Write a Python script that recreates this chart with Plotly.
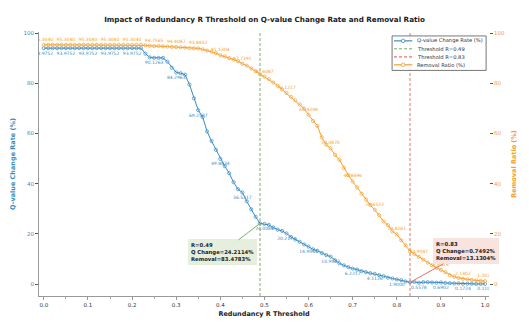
import plotly.graph_objects as go

# ---------------- data ----------------
r_thresholds = [i / 100 for i in range(101)]

q_change = [93.9752] * 23 + [
    91.8, 90.3, 90.1263, 90.1, 90.1, 88.6, 86.2, 84.2963, 84.0, 83.4,
    79.5, 74.0, 69.2597, 66.5, 60.8, 57.0, 53.5, 49.8834, 47.0, 44.2,
    40.6, 37.8, 36.5217, 33.0, 29.8, 26.8, 24.2114, 24.0084, 23.6, 22.6,
    21.7, 21.2, 20.2174, 18.8, 17.8, 16.9, 15.8, 14.9565, 13.9, 13.3,
    12.4, 11.6, 10.9507, 9.5, 8.3, 7.5, 6.8, 6.2217, 5.8, 5.2,
    4.8, 4.4, 4.1126, 3.6, 3.2, 2.6, 2.3, 1.9000, 1.6, 1.1,
    0.7492, 0.9, 0.5578, 0.8, 0.8, 0.7, 0.6, 0.6902, 0.5, 0.4,
    0.3, 0.3, 0.1724, 0.2, 0.2, 0.1, 0.1, 0.1107,
]

removal = [95.3040] * 23 + [
    95.1, 94.9, 94.7565, 94.8, 94.7, 94.6, 94.5, 94.4087, 94.3, 94.2,
    94.0, 93.9, 93.8832, 93.5, 93.0, 92.5, 92.0, 91.1304, 90.7, 90.0,
    89.4, 88.8, 87.7391, 87.0, 85.9, 84.8, 83.4783, 82.6087, 81.6, 80.3,
    79.0, 77.5, 76.1217, 74.6, 73.2, 71.6, 69.9, 67.4348, 65.0, 63.0,
    58.5, 55.5, 54.0870, 51.5, 49.5, 46.3, 43.5, 40.8696, 38.5, 36.0,
    33.7, 31.5, 29.6522, 27.5, 25.0, 23.5, 21.0, 19.8261, 17.5, 15.5,
    13.1304, 12.0, 10.9087, 9.8, 8.6, 7.5, 6.5, 5.6818, 4.8, 3.6,
    3.0, 2.5, 2.1402, 1.9, 1.7, 1.5, 1.3, 1.2027,
]

thresholds = [0.49, 0.83]
x_ticks = [0.0, 0.1, 0.2, 0.3, 0.4, 0.5, 0.6, 0.7, 0.8, 0.9, 1.0]
y_ticks = [0, 20, 40, 60, 80, 100]

# ---------------- style ----------------
BLUE = "#3B8BC2"
ORANGE = "#F5A02E"
GREEN = "#7AB06C"
RED = "#E27866"
FONT = "DejaVu Sans"
Y_RANGE = [-4.7, 100.4]
X_RANGE = [-0.011, 1.009]
W, H = 529, 328
ML, MR, MT, MB = 29, 31, 32, 28
PW, PH = W - ML - MR, H - MT - MB
DASH = "3px,2px"


def px_x(p):
    return (p - ML) / PW


def px_y(p):
    return (H - MB - p) / PH


q_text = [f"{v:.4f}" if i % 5 == 0 else "" for i, v in enumerate(q_change)]
r_text = [f"{v:.4f}" if i % 5 == 0 else "" for i, v in enumerate(removal)]

fig = go.Figure()

fig.add_trace(go.Scatter(
    x=r_thresholds, y=q_change, mode="lines+markers+text",
    name="Q-value Change Rate (%)",
    line=dict(color=BLUE, width=1),
    marker=dict(symbol="circle-open", size=3.2, color=BLUE, line=dict(width=0.7)),
    text=q_text, textposition="bottom center",
    textfont=dict(size=4.5, color=BLUE, family=FONT),
))

for t, c in zip(thresholds, [GREEN, RED]):
    fig.add_trace(go.Scatter(
        x=[t, t], y=Y_RANGE, mode="lines",
        name=f"Threshold R={t}",
        line=dict(color=c, width=1, dash=DASH),
    ))

fig.add_trace(go.Scatter(
    x=r_thresholds, y=removal, mode="lines+markers+text",
    name="Removal Ratio (%)", yaxis="y2",
    line=dict(color=ORANGE, width=1),
    marker=dict(symbol="circle-open", size=3.2, color=ORANGE, line=dict(width=0.7)),
    text=r_text, textposition="top center",
    textfont=dict(size=4.5, color=ORANGE, family=FONT),
))

# annotations for thresholds
ann_specs = [
    (0, GREEN, "#E6EFDD", -38, 29),
    (1, RED, "#F8E3DE", 56, -31),
]
for k, c, bg, ax, ay in ann_specs:
    t = thresholds[k]
    idx = r_thresholds.index(t)
    fig.add_annotation(
        x=t, y=q_change[idx], xref="x", yref="y",
        text=(f"<b>R={t}<br>Q Change={q_change[idx]:.4f}%<br>"
              f"Removal={removal[idx]:.4f}%</b>"),
        align="left", showarrow=True, arrowhead=0, arrowwidth=1, arrowcolor=c,
        ax=ax, ay=ay, bgcolor=bg, bordercolor=bg, borderwidth=1, borderpad=2,
        font=dict(size=5.3, color="#222", family=FONT),
    )

# ---------------- compact legend (drawn) ----------------
legend_items = [
    ("Q-value Change Rate (%)", BLUE, "solid", True),
    (f"Threshold R={thresholds[0]}", GREEN, DASH, False),
    (f"Threshold R={thresholds[1]}", RED, DASH, False),
    ("Removal Ratio (%)", ORANGE, "solid", True),
]
fig.add_shape(type="rect", xref="paper", yref="paper",
              x0=px_x(397), x1=px_x(495), y0=px_y(71), y1=px_y(36),
              line=dict(color="#555", width=0.8), fillcolor="rgba(255,255,255,0.85)",
              layer="above")
row_y = [41, 49, 57.3, 65.3]
for (name, c, dash, mk), ry in zip(legend_items, row_y):
    fig.add_shape(type="line", xref="paper", yref="paper",
                  x0=px_x(399), x1=px_x(418), y0=px_y(ry), y1=px_y(ry),
                  line=dict(color=c, width=1.2, dash=dash), layer="above")
    if mk:
        fig.add_shape(type="circle", xref="paper", yref="paper",
                      xsizemode="pixel", ysizemode="pixel",
                      xanchor=px_x(408.5), yanchor=px_y(ry),
                      x0=-1.8, x1=1.8, y0=-1.8, y1=1.8,
                      line=dict(color=c, width=0.8), fillcolor="white", layer="above")
    fig.add_annotation(x=px_x(421), y=px_y(ry), xref="paper", yref="paper",
                       text=name, showarrow=False, xanchor="left", yanchor="middle",
                       font=dict(size=5.2, color="#333", family=FONT))

fig.update_layout(
    width=W, height=H,
    margin=dict(l=ML, r=MR, t=MT, b=MB),
    paper_bgcolor="white", plot_bgcolor="white",
    font=dict(family=FONT, size=6, color="#222"),
    showlegend=False,
    title=dict(
        text="<b>Impact of Redundancy R Threshold on Q-value Change Rate and Removal Ratio</b>",
        x=0.5, xanchor="center", y=1 - 19 / H, yref="container", yanchor="middle",
        font=dict(size=7.2, color="#222", family=FONT),
    ),
    xaxis=dict(
        range=X_RANGE, tickvals=x_ticks, ticktext=[f"{v:.1f}" for v in x_ticks],
        showgrid=False, zeroline=False, showline=True, linecolor="#999", linewidth=1,
        ticks="outside", ticklen=3, tickcolor="#999", tickwidth=0.8,
        tickfont=dict(size=5.5, color="#333"),
        minor=dict(dtick=0.05, tick0=0, ticks="outside", ticklen=1.5, tickcolor="#aaa"),
        title=dict(text="<b>Redundancy R Threshold</b>", standoff=4,
                   font=dict(size=6.5, color="#222")),
    ),
    yaxis=dict(
        range=Y_RANGE, tickvals=y_ticks,
        showgrid=False, zeroline=False, showline=True, linecolor="#999", linewidth=1,
        ticks="outside", ticklen=3, tickcolor="#555", tickwidth=0.8,
        tickfont=dict(size=5.5, color=BLUE),
        title=dict(text="<b>Q-value Change Rate (%)</b>", standoff=7,
                   font=dict(size=6.5, color=BLUE)),
    ),
    yaxis2=dict(
        range=Y_RANGE, tickvals=y_ticks, overlaying="y", side="right",
        showgrid=False, zeroline=False, showline=False,
        ticks="outside", ticklen=3, tickcolor="#555", tickwidth=0.8,
        tickfont=dict(size=5.5, color=ORANGE),
        title=dict(text="<b>Removal Ratio (%)</b>", standoff=7,
                   font=dict(size=6.5, color=ORANGE)),
    ),
)

fig.write_html("out.html")
